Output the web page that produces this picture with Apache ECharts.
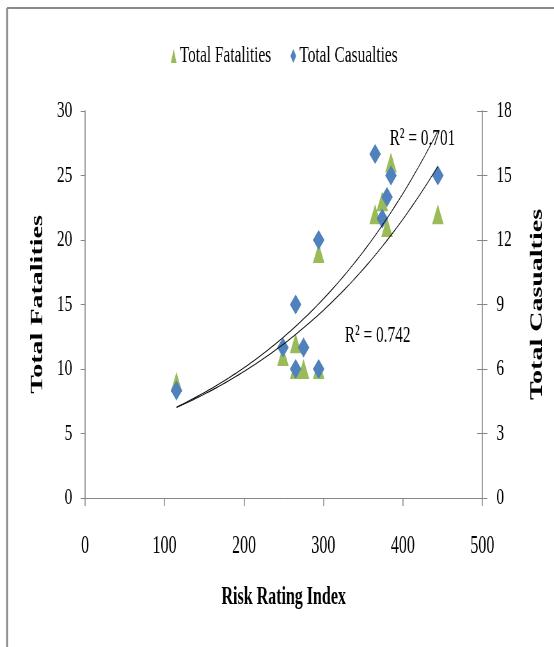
<!DOCTYPE html>
<html>
<head>
<meta charset="utf-8">
<script src="https://cdn.jsdelivr.net/npm/echarts@6/dist/echarts.min.js"></script>
<style>
html,body{margin:0;padding:0;overflow:hidden;background:#fff;width:554px;height:647px;}
#chart{width:866px;height:647px;transform:scaleX(0.6397);transform-origin:0 0;}
</style>
</head>
<body>
<div id="chart"></div>
<script>
// ---- data ----
const riskIndex   = [115, 249, 265, 265, 275, 294, 294, 365, 374, 380, 385, 444];
const fatalities  = [9, 11, 12, 10, 10, 19, 10, 22, 23, 21, 26, 22];
const casualties  = [5, 7, 9, 6, 7, 12, 6, 16, 13, 14, 15, 15];
const xTicks = [0, 500, 100];      // min, max, interval
const yLeftTicks = [0, 30, 5];
const yRightTicks = [0, 18, 3];
const r2Labels = ['R\u00B2 = 0.701', 'R\u00B2 = 0.742'];
const seriesNames = ['Total Fatalities', 'Total Casualties'];

// exponential least-squares trendline (as the spreadsheet trendline does)
function expFit(xs, ys) {
  const n = xs.length;
  const ly = ys.map(v => Math.log(v));
  const mx = xs.reduce((a, b) => a + b, 0) / n;
  const my = ly.reduce((a, b) => a + b, 0) / n;
  let sxy = 0, sxx = 0;
  for (let i = 0; i < n; i++) { sxy += (xs[i] - mx) * (ly[i] - my); sxx += (xs[i] - mx) ** 2; }
  const b = sxy / sxx;
  const a = Math.exp(my - b * mx);
  return { a, b };
}
function trendPoints(xs, ys) {
  const f = expFit(xs, ys);
  const x0 = Math.min(...xs), x1 = Math.max(...xs);
  const pts = [];
  const N = 80;
  for (let i = 0; i <= N; i++) {
    const x = x0 + (x1 - x0) * i / N;
    pts.push([x, f.a * Math.exp(f.b * x)]);
  }
  return pts;
}

const FONT = 'Liberation Serif';
const axisGray = '#868686';
const chart = echarts.init(document.getElementById('chart'), null, { renderer: 'canvas' });

chart.setOption({
  backgroundColor: '#ffffff',
  animation: false,
  textStyle: { fontFamily: FONT, color: '#000' },
  legend: {
    data: [
      { name: seriesNames[0], icon: 'triangle' },
      { name: seriesNames[1], icon: 'diamond' }
    ],
    left: 262,
    top: 39,
    itemWidth: 9,
    itemHeight: 14,
    itemGap: 30,
    textStyle: { fontFamily: FONT, fontSize: 24, color: '#000' }
  },
  grid: { left: 133, right: 112, top: 111, bottom: 149 },
  xAxis: {
    type: 'value', min: xTicks[0], max: xTicks[1], interval: xTicks[2],
    name: 'Risk Rating Index', nameLocation: 'middle', nameGap: 87,
    nameTextStyle: { fontFamily: FONT, fontSize: 25, fontWeight: 'bold', color: '#000' },
    axisLine: { show: true, lineStyle: { color: axisGray, width: 1 } },
    axisTick: { show: true, inside: false, length: 8, lineStyle: { color: axisGray, width: 1.5 } },
    axisLabel: { fontFamily: FONT, fontSize: 25, color: '#000', margin: 36 },
    splitLine: { show: false }
  },
  yAxis: [
    {
      type: 'value', position: 'left', min: yLeftTicks[0], max: yLeftTicks[1], interval: yLeftTicks[2],
      name: 'Total Fatalities', nameLocation: 'middle', nameRotate: 90, nameGap: 60,
      nameTextStyle: { fontFamily: FONT, fontSize: 28, fontWeight: 'bold', color: '#000' },
      axisLine: { show: true, lineStyle: { color: axisGray, width: 1.6 } },
      axisTick: { show: true, inside: false, length: 7, lineStyle: { color: axisGray, width: 1 } },
      axisLabel: { fontFamily: FONT, fontSize: 24, color: '#000', margin: 20 },
      splitLine: { show: false }
    },
    {
      type: 'value', position: 'right', min: yRightTicks[0], max: yRightTicks[1], interval: yRightTicks[2],
      name: 'Total Casualties', nameLocation: 'middle', nameRotate: 90, nameGap: 72,
      nameTextStyle: { fontFamily: FONT, fontSize: 28, fontWeight: 'bold', color: '#000' },
      axisLine: { show: true, lineStyle: { color: axisGray, width: 1.6 } },
      axisTick: { show: true, inside: false, length: 8, lineStyle: { color: axisGray, width: 1 } },
      axisLabel: { fontFamily: FONT, fontSize: 24, color: '#000', margin: 22 },
      splitLine: { show: false }
    },
    {
      type: 'value', position: 'right', min: yRightTicks[0], max: yRightTicks[1], interval: yRightTicks[2],
      axisLine: { show: false },
      axisTick: { show: true, inside: true, length: 8, lineStyle: { color: axisGray, width: 1 } },
      axisLabel: { show: false },
      splitLine: { show: false }
    }
  ],
  series: [
    {
      name: seriesNames[0], type: 'scatter', yAxisIndex: 0,
      symbol: 'triangle', symbolSize: [18, 20],
      itemStyle: { color: '#9BBB59', opacity: 1 },
      data: riskIndex.map((x, i) => [x, fatalities[i]]),
      z: 2
    },
    {
      name: seriesNames[1], type: 'scatter', yAxisIndex: 1,
      symbol: 'diamond', symbolSize: [18, 20],
      itemStyle: { color: '#4F81BD', opacity: 1 },
      data: riskIndex.map((x, i) => [x, casualties[i]]),
      z: 3
    },
    {
      name: 'trend-fatalities', type: 'line', yAxisIndex: 0,
      showSymbol: false, silent: true, smooth: false,
      lineStyle: { color: '#111', width: 1.1 },
      data: trendPoints(riskIndex, fatalities), z: 4
    },
    {
      name: 'trend-casualties', type: 'line', yAxisIndex: 1,
      showSymbol: false, silent: true, smooth: false,
      lineStyle: { color: '#111', width: 1.1 },
      data: trendPoints(riskIndex, casualties), z: 4
    }
  ],
  graphic: [
    { type: 'line', shape: { x1: 11, y1: 8, x2: 11, y2: 660 }, style: { stroke: '#8a8a8a', lineWidth: 3 } },
    { type: 'line', shape: { x1: 11, y1: 8, x2: 880, y2: 8 }, style: { stroke: '#8a8a8a', lineWidth: 2 } },
    { type: 'text', left: 609, top: 127, style: { text: r2Labels[0], font: '24px "Liberation Serif"', fill: '#000' } },
    { type: 'text', left: 539, top: 324, style: { text: r2Labels[1], font: '24px "Liberation Serif"', fill: '#000' } }
  ]
});
</script>
</body>
</html>
